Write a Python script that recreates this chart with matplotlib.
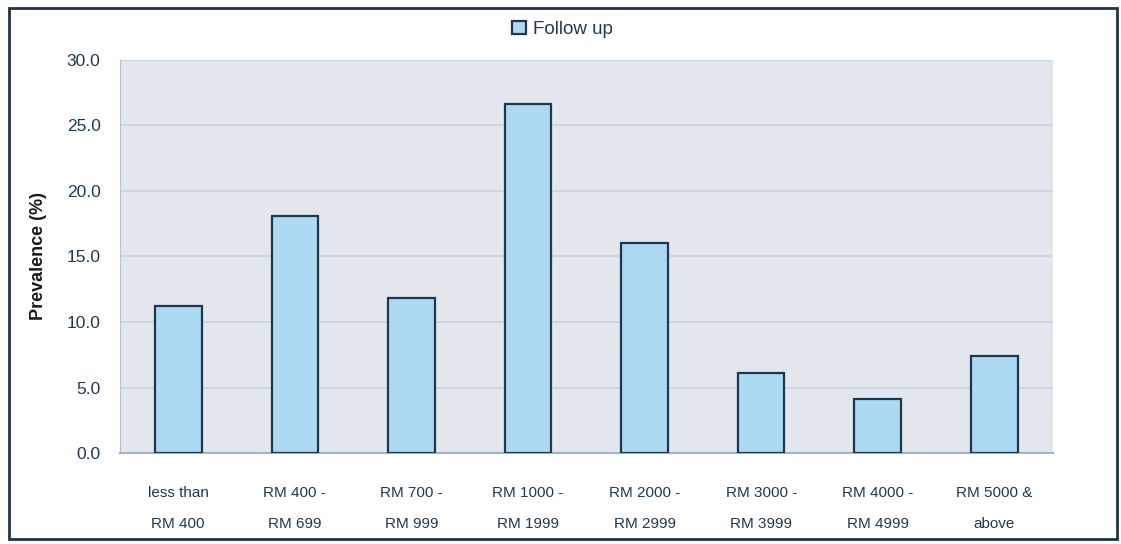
import matplotlib
matplotlib.use("Agg")
import matplotlib.pyplot as plt
from matplotlib import font_manager
from matplotlib.patches import Rectangle

categories = ["less than\nRM 400", "RM 400 -\nRM 699", "RM 700 -\nRM 999",
              "RM 1000 -\nRM 1999", "RM 2000 -\nRM 2999", "RM 3000 -\nRM 3999",
              "RM 4000 -\nRM 4999", "RM 5000 &\nabove"]
follow_up = [11.2, 18.1, 11.8, 26.6, 16.0, 6.1, 4.1, 7.4]
yticks = [0, 5, 10, 15, 20, 25, 30]
series_name = "Follow up"


def has_font(name):
    try:
        font_manager.findfont(font_manager.FontProperties(family=name), fallback_to_default=False)
        return True
    except Exception:
        return False

base = "Liberation Sans" if has_font("Liberation Sans") else "DejaVu Sans"
narrow = "Liberation Sans Narrow" if has_font("Liberation Sans Narrow") else base
plt.rcParams['font.family'] = [base, 'DejaVu Sans']

text_col = '#1d3a52'
fig = plt.figure(figsize=(11.21, 5.44), dpi=100)
ax = fig.add_axes([0.107, 0.167, 0.832, 0.723])
ax.set_facecolor('#e3e7ed')

x = list(range(len(categories)))
ax.bar(x, follow_up, width=0.40, color='#acdaf3', edgecolor='#1f3550',
       linewidth=1.6, zorder=3, label=series_name)

ax.set_xlim(-0.5, len(categories) - 0.5)
ax.set_ylim(0, 30)
ax.set_yticks(yticks)
ax.set_yticklabels([f"{v:.1f}" for v in yticks], fontsize=12.5, color=text_col)
ax.yaxis.grid(True, color='#bfd6e2', linewidth=1.2, zorder=0)
ax.set_axisbelow(True)
ax.tick_params(axis='y', length=0, pad=14)
ax.tick_params(axis='x', length=0, pad=24)
ax.set_xticks(x)
ax.set_xticklabels(categories, fontsize=11, color=text_col, family=[narrow, 'DejaVu Sans'],
                   linespacing=2.5, va='top')

for s in ['top', 'right']:
    ax.spines[s].set_visible(False)
ax.spines['left'].set_color('#b5c3cf')
ax.spines['bottom'].set_color('#9fb5c6')
ax.spines['bottom'].set_linewidth(1.5)

ax.set_ylabel("Prevalence (%)", fontsize=13, fontweight='bold', color='#1a1a1a')
ax.yaxis.set_label_coords(-0.078, 0.5)

leg = fig.legend(loc='center', bbox_to_anchor=(0.502, 0.945), frameon=False,
                 fontsize=13.5, handlelength=0.7, handleheight=0.7, handletextpad=0.4)
for t in leg.get_texts():
    t.set_color(text_col)

fig.patches.append(Rectangle((0.008, 0.010), 0.988, 0.975, transform=fig.transFigure,
                             fill=False, edgecolor='#1f3447', linewidth=2.0))

fig.savefig("out.png", dpi=100)
